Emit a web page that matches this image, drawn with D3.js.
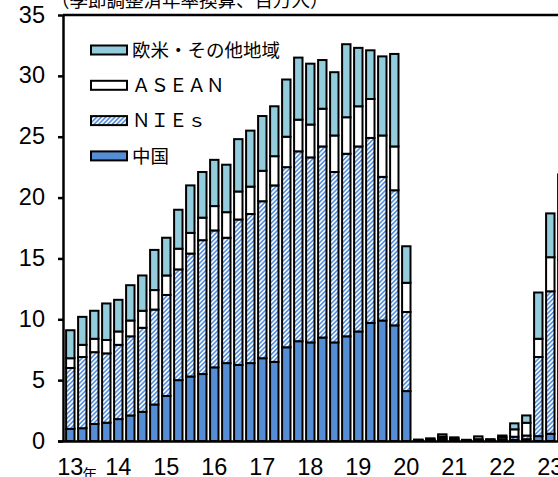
<!DOCTYPE html>
<html>
<head>
<meta charset="utf-8">
<script src="https://cdn.jsdelivr.net/npm/d3@7"></script>
<style>
  html, body { margin: 0; padding: 0; background: #fff; }
  svg { display: block; }
</style>
</head>
<body>
<svg id="chart" width="558" height="477"></svg>
<script>
// Quarterly visitor arrivals by region (seasonally adjusted, annualized, million persons)
const quarters = [];
for (let yr = 2013; yr <= 2023; yr++) {
  for (let q = 1; q <= 4; q++) {
    if (yr === 2023 && q > 2) break;
    quarters.push(yr + "Q" + q);
  }
}

const china = [1.0, 1.05, 1.4, 1.5, 1.8, 2.1, 2.4, 3.0, 3.7, 5.0, 5.3, 5.5, 6.05, 6.4,
  6.25, 6.4, 6.8, 6.5, 7.7, 8.2, 8.1, 8.5, 8.1, 8.6, 9.0, 9.7, 9.9, 9.5, 4.1,
  0.02, 0.05, 0.1, 0.05, 0.02, 0.03, 0.02, 0.05, 0.1, 0.15, 0.4, 0.6, 1.8];

const nies = [5.0, 5.85, 5.9, 5.7, 6.1, 6.5, 6.9, 7.8, 8.3, 9.1, 10.1, 11.0, 11.25, 10.3,
  11.95, 12.25, 12.9, 14.5, 14.8, 15.6, 15.2, 15.7, 14.0, 15.0, 15.2, 15.2, 11.8, 11.1, 6.5,
  0.03, 0.05, 0.1, 0.05, 0.02, 0.05, 0.03, 0.07, 0.25, 0.3, 6.5, 11.7, 13.1];

const asean = [0.8, 1.0, 1.1, 1.1, 1.1, 1.3, 1.4, 1.6, 1.6, 1.7, 1.7, 1.85, 2.0, 2.1,
  2.3, 2.25, 2.5, 2.4, 2.5, 2.6, 2.7, 3.1, 3.0, 3.0, 3.3, 3.2, 3.4, 3.6, 2.4,
  0.03, 0.05, 0.15, 0.1, 0.03, 0.07, 0.05, 0.18, 0.61, 1.05, 1.5, 2.8, 3.3];

const others = [2.3, 2.3, 2.3, 3.0, 2.6, 2.9, 2.9, 3.3, 3.1, 3.2, 3.9, 3.75, 3.8, 3.9,
  4.3, 4.6, 4.5, 4.1, 4.7, 5.1, 5.0, 4.0, 5.2, 6.0, 4.8, 4.0, 6.5, 7.6, 3.0,
  0.04, 0.07, 0.2, 0.1, 0.03, 0.23, 0.05, 0.15, 0.49, 0.6, 3.8, 3.6, 3.7];

const seriesKeys = ["china", "nies", "asean", "others"];
const seriesNames = { china: "中国", nies: "ＮＩＥｓ", asean: "ＡＳＥＡＮ", others: "欧米・その他地域" };
const legendOrder = ["others", "asean", "nies", "china"];

const yTicks = [0, 5, 10, 15, 20, 25, 30, 35];
const yearLabels = ["13", "14", "15", "16", "17", "18", "19", "20", "21", "22", "23"];
const unitNote = "（季節調整済年率換算、百万人）";

const rows = quarters.map((q, i) => ({
  q, china: china[i], nies: nies[i], asean: asean[i], others: others[i]
}));

const svg = d3.select("#chart");
const digitFont = "'Liberation Sans Narrow', 'Liberation Sans', Arial, sans-serif";
const cjkFont = "'Noto Sans CJK JP', 'Noto Sans', sans-serif";

const axisX = 63, plotTop = 15, plotBase = 441;

const x = d3.scaleBand()
  .domain(quarters)
  .range([64.3, 64.3 + 12 * quarters.length])
  .paddingInner(0.3)
  .paddingOuter(0.15);

const y = d3.scaleLinear().domain([0, 35]).range([plotBase, plotTop]);

// fills
const defs = svg.append("defs");
const pat = defs.append("pattern")
  .attr("id", "hatch")
  .attr("patternUnits", "userSpaceOnUse")
  .attr("width", 3.2).attr("height", 3.2)
  .attr("patternTransform", "rotate(45)");
pat.append("rect").attr("width", 3.2).attr("height", 3.2).attr("fill", "#ffffff");
pat.append("rect").attr("width", 1.7).attr("height", 3.2).attr("fill", "#5a92de");

const fills = { china: "#558ed5", nies: "url(#hatch)", asean: "#ffffff", others: "#93cddd" };

// stacked bars
const stacked = d3.stack().keys(seriesKeys)(rows);
svg.append("g")
  .selectAll("g")
  .data(stacked)
  .join("g")
  .attr("fill", d => fills[d.key])
  .selectAll("rect")
  .data(d => d)
  .join("rect")
  .attr("x", d => x(d.data.q))
  .attr("width", x.bandwidth())
  .attr("y", d => y(d[1]))
  .attr("height", d => y(d[0]) - y(d[1]))
  .attr("stroke", "#000")
  .attr("stroke-width", 2);

// frame top line
svg.append("line")
  .attr("x1", axisX).attr("x2", 600)
  .attr("y1", plotTop).attr("y2", plotTop)
  .attr("stroke", "#000").attr("stroke-width", 2.5);

// y axis
const yAxis = svg.append("g")
  .attr("transform", `translate(${axisX},0)`)
  .call(d3.axisLeft(y).tickValues(yTicks).tickSize(5).tickSizeOuter(0).tickPadding(13));
yAxis.select(".domain").attr("stroke-width", 2.5);
yAxis.selectAll(".tick line").attr("stroke-width", 2.5);
yAxis.selectAll(".tick text")
  .attr("font-family", digitFont)
  .attr("font-size", 23.5)
  .attr("fill", "#000")
  .attr("dy", "0.3em");

// x axis: year labels at first quarter of each year
const firstQuarters = quarters.filter(q => q.endsWith("Q1"));
const xAxis = svg.append("g")
  .attr("transform", `translate(0,${plotBase})`)
  .call(d3.axisBottom(x)
    .tickValues(firstQuarters)
    .tickSize(0)
    .tickSizeOuter(0)
    .tickPadding(34)
    .tickFormat((q, i) => yearLabels[i]));
xAxis.select(".domain").attr("stroke-width", 2.5)
  .attr("d", `M${axisX - 5},0.5H600`);
xAxis.selectAll(".tick text")
  .attr("font-family", digitFont)
  .attr("font-size", 23.5)
  .attr("fill", "#000")
  .attr("dy", 0);

// "年" suffix after the first year label
svg.append("text")
  .attr("x", x(quarters[0]) + x.bandwidth() / 2 + 12)
  .attr("y", 480)
  .attr("font-family", cjkFont)
  .attr("font-size", 15)
  .text("年");

// unit note at top
svg.append("text")
  .attr("x", 51)
  .attr("y", 6.5)
  .attr("font-family", cjkFont)
  .attr("font-size", 18.5)
  .text(unitNote);

// legend
const legend = svg.append("g");
legendOrder.forEach((k, i) => {
  const cy = 50 + i * 35.3;
  legend.append("rect")
    .attr("x", 91).attr("y", cy - 4.5)
    .attr("width", 36).attr("height", 9)
    .attr("fill", fills[k])
    .attr("stroke", "#000").attr("stroke-width", 2);
  legend.append("text")
    .attr("x", 132).attr("y", cy)
    .attr("dy", "0.36em")
    .attr("font-family", cjkFont)
    .attr("font-size", 18.5)
    .text(seriesNames[k]);
});
</script>
</body>
</html>
